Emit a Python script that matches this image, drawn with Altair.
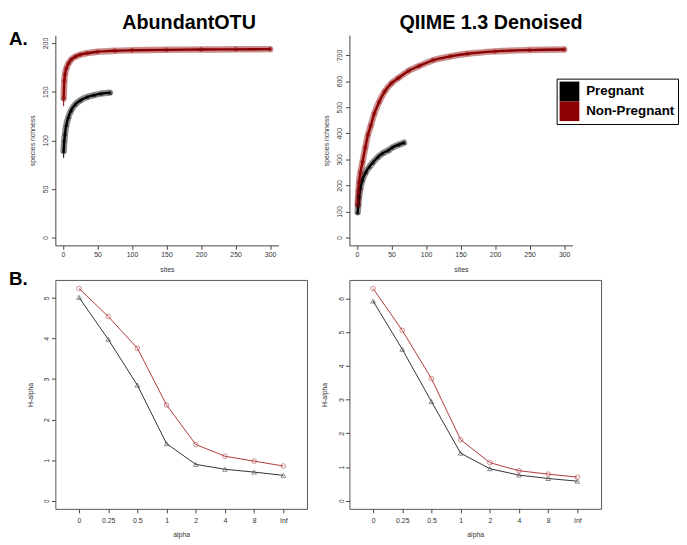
import altair as alt
import pandas as pd

FONT = "Liberation Sans"
AXC = "#444444"
LBL = "#333333"
SERIES = ["Pregnant", "Non-Pregnant"]
TOP_COLORS = ["#000000", "#8B0000"]
BOT_COLORS = ["#333333", "#B03A3A"]

# ---------------- Panel A (species accumulation) ----------------
a1_preg_sites = [1, 2, 3, 5, 8, 12, 18, 25, 35, 45, 55, 68]
a1_preg_rich = [89, 100, 107, 116, 124, 131, 137, 141, 144.5, 146.5, 148, 149]
a1_non_sites = [1, 2, 3, 5, 8, 12, 18, 25, 35, 50, 75, 100, 150, 200, 250, 300]
a1_non_rich = [143, 161, 168, 174, 179, 183, 186, 188, 189.5, 191, 192, 192.5, 193, 193.3, 193.5, 193.7]
a1_err_lo = [82, 135]
a1_err_hi = [96, 151]

a2_preg_sites = [1, 2, 3, 5, 8, 13, 18, 23, 30, 37, 45, 51, 60, 68]
a2_preg_rich = [97, 130, 158, 190, 222, 252, 272, 288, 308, 323, 334, 345, 356, 364]
a2_non_sites = [1, 2, 3, 5, 8, 12, 16, 20, 25, 32, 40, 50, 60, 75, 90, 110, 135, 160, 200, 250, 300]
a2_non_rich = [125, 178, 212, 250, 290, 345, 395, 430, 475, 520, 560, 592, 612, 640, 658, 680, 695, 705, 714, 719, 721]
a2_err_lo = [88, 110]
a2_err_hi = [106, 140]

site_ticks = [0, 50, 100, 150, 200, 250, 300]
a1_yticks = [0, 50, 100, 150, 200]
a2_yticks = [0, 100, 200, 300, 400, 500, 600, 700]

# ---------------- Panel B (Renyi diversity profiles) ----------------
alpha_labels = ["0", "0.25", "0.5", "1", "2", "4", "8", "Inf"]
b1_preg = [5.01, 3.98, 2.85, 1.41, 0.90, 0.78, 0.71, 0.63]
b1_non = [5.23, 4.54, 3.76, 2.36, 1.39, 1.10, 0.98, 0.86]
b2_preg = [5.92, 4.49, 2.94, 1.41, 0.95, 0.76, 0.66, 0.58]
b2_non = [6.29, 5.05, 3.62, 1.81, 1.13, 0.89, 0.79, 0.70]
b1_yticks = [0, 1, 2, 3, 4, 5]
b2_yticks = [0, 1, 2, 3, 4, 5, 6]

TPLOT, TW, TH = 226, 254.5, 213
BW, BH = 255, 232


def axis_common(**kw):
    base = dict(grid=False, domainColor=AXC, domainWidth=1, tickColor=AXC, tickSize=4,
                labelFont=FONT, labelFontSize=7, labelColor=LBL, labelOverlap=False,
                labelFlush=False, titleFont=FONT, titleFontSize=7, titleFontWeight="normal",
                titleColor=LBL, tickCount=20)
    base.update(kw)
    return alt.Axis(**base)


def text_layer(txt, size, xpos, ypos, align):
    return alt.Chart(pd.DataFrame({"t": [txt]})).mark_text(
        font=FONT, fontSize=size, fontWeight="bold", color="black", align=align,
        baseline="alphabetic").encode(text="t:N", x=alt.value(xpos), y=alt.value(ypos))


def accum_panel(ps, pv, ns, nv, elo, ehi, ydom, yticks, title, title_x, tag, legend):
    df = pd.concat([
        pd.DataFrame({"site": ps, "rich": pv, "series": "Pregnant"}),
        pd.DataFrame({"site": ns, "rich": nv, "series": "Non-Pregnant"}),
    ])
    err = pd.DataFrame({"site": [1, 1], "lo": elo, "hi": ehi, "series": SERIES})
    xs = alt.Scale(domain=[-11, 312], range=[0, TPLOT], nice=False, zero=False)
    ys = alt.Scale(domain=ydom, nice=False, zero=False)
    cs = alt.Scale(domain=SERIES, range=TOP_COLORS)
    x = alt.X("site:Q", scale=xs, axis=axis_common(values=site_ticks, title="sites", format="d",
                                                  labelPadding=1.5, titleX=TPLOT / 2,
                                                  titleY=24, titleBaseline="middle"))
    y = alt.Y("rich:Q", scale=ys, axis=axis_common(values=yticks, title="species richness",
                                                  format="d", labelAngle=270, labelAlign="center",
                                                  labelBaseline="bottom", labelPadding=3,
                                                  titleX=-23, titleBaseline="middle"))
    base = alt.Chart(df).encode(x=x, y=y, color=alt.Color("series:N", scale=cs, legend=None),
                                detail="series:N")
    band = base.mark_line(strokeWidth=6.5, opacity=0.45, interpolate="monotone", strokeCap="round")
    core = base.mark_line(strokeWidth=2.4, interpolate="monotone", strokeCap="round")
    pts = base.mark_point(filled=False, size=14, strokeWidth=0.8).encode(
        shape=alt.Shape("series:N", scale=alt.Scale(domain=SERIES, range=["triangle-up", "circle"]),
                        legend=None))
    bars = alt.Chart(err).mark_rule(strokeWidth=1).encode(
        x="site:Q", y="lo:Q", y2="hi:Q",
        color=alt.Color("series:N", scale=cs, legend=None))
    layers = [bars, band, core, pts, text_layer(title, 20, title_x, -6, "center")]
    if tag:
        layers.append(text_layer(tag, 19, -47, 10, "left"))
    if legend:
        leg = alt.Chart(df).mark_square(size=0, strokeWidth=0).encode(
            x="site:Q", y="rich:Q",
            fill=alt.Fill("series:N", scale=cs, legend=alt.Legend(
                title=None, orient="none", legendX=508, legendY=44,
                symbolType="square", symbolSize=400, symbolStrokeWidth=0, symbolOpacity=1,
                labelFont=FONT, labelFontSize=13.5, labelFontWeight="bold",
                labelColor="black", labelOffset=7, rowPadding=0, padding=3,
                strokeColor="black", fillColor="white", labelLimit=200)))
        layers.append(leg)
    return alt.layer(*layers).properties(
        width=TW, height=TH, view=alt.ViewBackground(stroke=None))


def renyi_panel(pv, nv, ydom, yticks, tag):
    df = pd.concat([
        pd.DataFrame({"alpha": alpha_labels, "h": pv, "series": "Pregnant"}),
        pd.DataFrame({"alpha": alpha_labels, "h": nv, "series": "Non-Pregnant"}),
    ])
    x = alt.X("alpha:O", sort=alpha_labels, scale=alt.Scale(type="point", padding=0.81),
              axis=axis_common(title="alpha", domain=False, labelAngle=0, labelPadding=4,
                               titleY=26, titleBaseline="middle"))
    y = alt.Y("h:Q", scale=alt.Scale(domain=ydom, nice=False, zero=False),
              axis=axis_common(values=yticks, title="H-alpha", format="d", domain=False,
                               labelAngle=270, labelAlign="center", labelBaseline="bottom",
                               labelPadding=1.5, titleX=-25, titleBaseline="middle"))
    cs = alt.Scale(domain=SERIES, range=BOT_COLORS)
    base = alt.Chart(df).encode(x=x, y=y, color=alt.Color("series:N", scale=cs, legend=None))
    line = base.mark_line(strokeWidth=1)
    pts = base.mark_point(filled=False, size=22, strokeWidth=0.8).encode(
        shape=alt.Shape("series:N", scale=alt.Scale(domain=SERIES, range=["triangle-up", "circle"]),
                        legend=None))
    layers = [line, pts]
    if tag:
        layers.append(text_layer(tag, 19, -47, 5.5, "left"))
    return alt.layer(*layers).properties(width=BW, height=BH)


p1 = accum_panel(a1_preg_sites, a1_preg_rich, a1_non_sites, a1_non_rich, a1_err_lo, a1_err_hi,
                 [-8, 208], a1_yticks, "AbundantOTU", 135.5, "A.", False)
p2 = accum_panel(a2_preg_sites, a2_preg_rich, a2_non_sites, a2_non_rich, a2_err_lo, a2_err_hi,
                 [-30, 776], a2_yticks, "QIIME 1.3 Denoised", 143.5, "", True)
p3 = renyi_panel(b1_preg, b1_non, [-0.195, 5.44], b1_yticks, "B.")
p4 = renyi_panel(b2_preg, b2_non, [-0.24, 6.545], b2_yticks, "")

chart = alt.concat(p1, p2, p3, p4, columns=2, spacing={"row": 35, "column": 43},
                   bounds="flush", align="none").resolve_scale(
    color="independent", shape="independent",
    x="independent", y="independent").properties(
    padding={"left": 0, "top": 2, "right": 0, "bottom": 0}, background="white"
).configure_view(stroke="#555555", strokeWidth=1)

chart.save("out.html", embed_options={"renderer": "svg", "actions": False})
